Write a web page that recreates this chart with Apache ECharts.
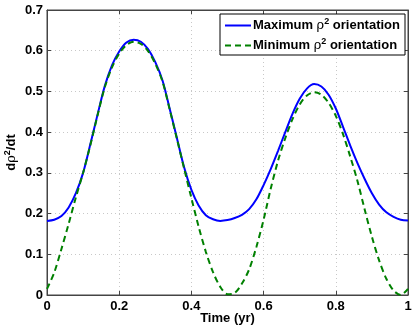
<!DOCTYPE html>
<html lang="en">
<head>
<meta charset="UTF-8">
<title>drho2/dt</title>
<style>
  html, body { margin: 0; padding: 0; background: #fff; }
  #chart { width: 415px; height: 329px; }
</style>
</head>
<body>
<div id="chart"></div>
<script src="https://cdn.jsdelivr.net/npm/echarts@6/dist/echarts.min.js"></script>
<script>
// time in years
var times = [0, 0.02, 0.04, 0.06, 0.08, 0.10, 0.12, 0.14, 0.16, 0.18,
             0.20, 0.22, 0.24, 0.26, 0.28, 0.30, 0.32, 0.34, 0.36, 0.38,
             0.40, 0.42, 0.44, 0.46, 0.48, 0.50, 0.52, 0.54, 0.56, 0.58,
             0.60, 0.62, 0.64, 0.66, 0.68, 0.70, 0.72, 0.74, 0.76, 0.78,
             0.80, 0.82, 0.84, 0.86, 0.88, 0.90, 0.92, 0.94, 0.96, 0.98, 1.00];

var maxOrient = [0.182, 0.185, 0.194, 0.215, 0.250, 0.300, 0.370, 0.443, 0.513, 0.564,
                 0.598, 0.620, 0.627, 0.622, 0.604, 0.572, 0.527, 0.457, 0.385, 0.313,
                 0.258, 0.220, 0.196, 0.186, 0.182, 0.184, 0.189, 0.197, 0.211, 0.235,
                 0.270, 0.310, 0.354, 0.400, 0.445, 0.482, 0.507, 0.518, 0.512, 0.492,
                 0.458, 0.413, 0.367, 0.324, 0.285, 0.250, 0.222, 0.203, 0.192, 0.185, 0.183];

var minOrient = [0.015, 0.055, 0.113, 0.175, 0.240, 0.300, 0.368, 0.441, 0.510, 0.559,
                 0.593, 0.614, 0.622, 0.617, 0.599, 0.568, 0.524, 0.455, 0.383, 0.310,
                 0.238, 0.168, 0.106, 0.056, 0.020, 0.002, 0.005, 0.028, 0.063, 0.118,
                 0.185, 0.262, 0.330, 0.385, 0.432, 0.468, 0.490, 0.498, 0.492, 0.472,
                 0.440, 0.395, 0.340, 0.280, 0.210, 0.143, 0.085, 0.040, 0.011, 0.000, 0.015];

var seriesNames = ['Maximum \u03c1\u00b2 orientation', 'Minimum \u03c1\u00b2 orientation'];

function pairs(ys) {
  var out = [];
  for (var i = 0; i < times.length; i++) {
    out.push([times[i], ys[i]]);
  }
  return out;
}

var chart = echarts.init(document.getElementById('chart'));

var fontFam = '"Liberation Sans", Arial, sans-serif';
var frameColor = '#444';
var gridStyle = { show: true, lineStyle: { color: '#c8c8c8', type: [1, 3], width: 1 } };
var labelStyle = { fontFamily: fontFam, fontWeight: 'bold', fontSize: 13, color: '#000' };
var richText = {
  b: { fontFamily: fontFam, fontWeight: 'bold', fontSize: 13, color: '#000' },
  r: { fontFamily: '"DejaVu Serif", serif', fontSize: 13, color: '#000' },
  sup: { fontFamily: fontFam, fontWeight: 'bold', fontSize: 9, color: '#000', verticalAlign: 'top', padding: [0, 0, 8, 0] }
};

function tickFmt(v) { return String(Math.round(v * 10) / 10); }

var option = {
  animation: false,
  grid: {
    left: 47, top: 10, right: 7, bottom: 34,
    outerBoundsMode: 'none',
    containLabel: false,
    show: true, borderColor: frameColor, borderWidth: 1
  },
  legend: {
    right: 10,
    top: 14,
    orient: 'vertical',
    backgroundColor: '#fff',
    borderColor: '#000',
    borderWidth: 1,
    borderRadius: 0,
    padding: [3, 5, 3, 4],
    itemWidth: 26,
    itemHeight: 10,
    itemGap: 5,
    itemStyle: { opacity: 0 },
    data: seriesNames,
    formatter: function (name) {
      var word = name.indexOf('Maximum') === 0 ? 'Maximum' : 'Minimum';
      return '{b|' + word + ' }{r|\u03c1}{sup|2}{b| orientation}';
    },
    textStyle: { rich: richText, padding: [0, 0, 0, -3] }
  },
  xAxis: [{
    type: 'value',
    min: 0, max: 1, interval: 0.2,
    name: 'Time (yr)',
    nameLocation: 'middle',
    nameGap: 17,
    nameMoveOverlap: false,
    nameTextStyle: labelStyle,
    axisLine: { show: true, onZero: false, lineStyle: { color: frameColor } },
    axisTick: { show: true, inside: true, length: 4, lineStyle: { color: frameColor } },
    axisLabel: Object.assign({ margin: 5, formatter: tickFmt }, labelStyle),
    splitLine: gridStyle
  }, {
    type: 'value',
    position: 'top',
    min: 0, max: 1, interval: 0.2,
    axisLine: { show: true, onZero: false, lineStyle: { color: frameColor } },
    axisTick: { show: true, inside: true, length: 4, lineStyle: { color: frameColor } },
    axisLabel: { show: false },
    splitLine: { show: false }
  }],
  yAxis: [{
    type: 'value',
    min: 0, max: 0.7, interval: 0.1,
    name: '{b|d}{r|\u03c1}{sup|2}{b|/dt}',
    nameLocation: 'middle',
    nameGap: 27,
    nameMoveOverlap: false,
    nameTextStyle: { rich: richText },
    axisLine: { show: true, onZero: false, lineStyle: { color: frameColor } },
    axisTick: { show: true, inside: true, length: 4, lineStyle: { color: frameColor } },
    axisLabel: Object.assign({ margin: 4, formatter: tickFmt }, labelStyle),
    splitLine: gridStyle
  }, {
    type: 'value',
    position: 'right',
    min: 0, max: 0.7, interval: 0.1,
    axisLine: { show: true, onZero: false, lineStyle: { color: frameColor } },
    axisTick: { show: true, inside: true, length: 4, lineStyle: { color: frameColor } },
    axisLabel: { show: false },
    splitLine: { show: false }
  }],
  series: [
    {
      name: seriesNames[0],
      type: 'line',
      data: pairs(maxOrient),
      smooth: 0.3,
      symbol: 'none',
      lineStyle: { color: '#0000ff', width: 2 },
      itemStyle: { color: '#0000ff' },
      z: 2
    },
    {
      name: seriesNames[1],
      type: 'line',
      data: pairs(minOrient),
      smooth: 0.3,
      symbol: 'none',
      lineStyle: { color: '#008000', width: 2, type: [6, 4] },
      itemStyle: { color: '#008000' },
      z: 3
    }
  ]
};

chart.setOption(option);
</script>
</body>
</html>
